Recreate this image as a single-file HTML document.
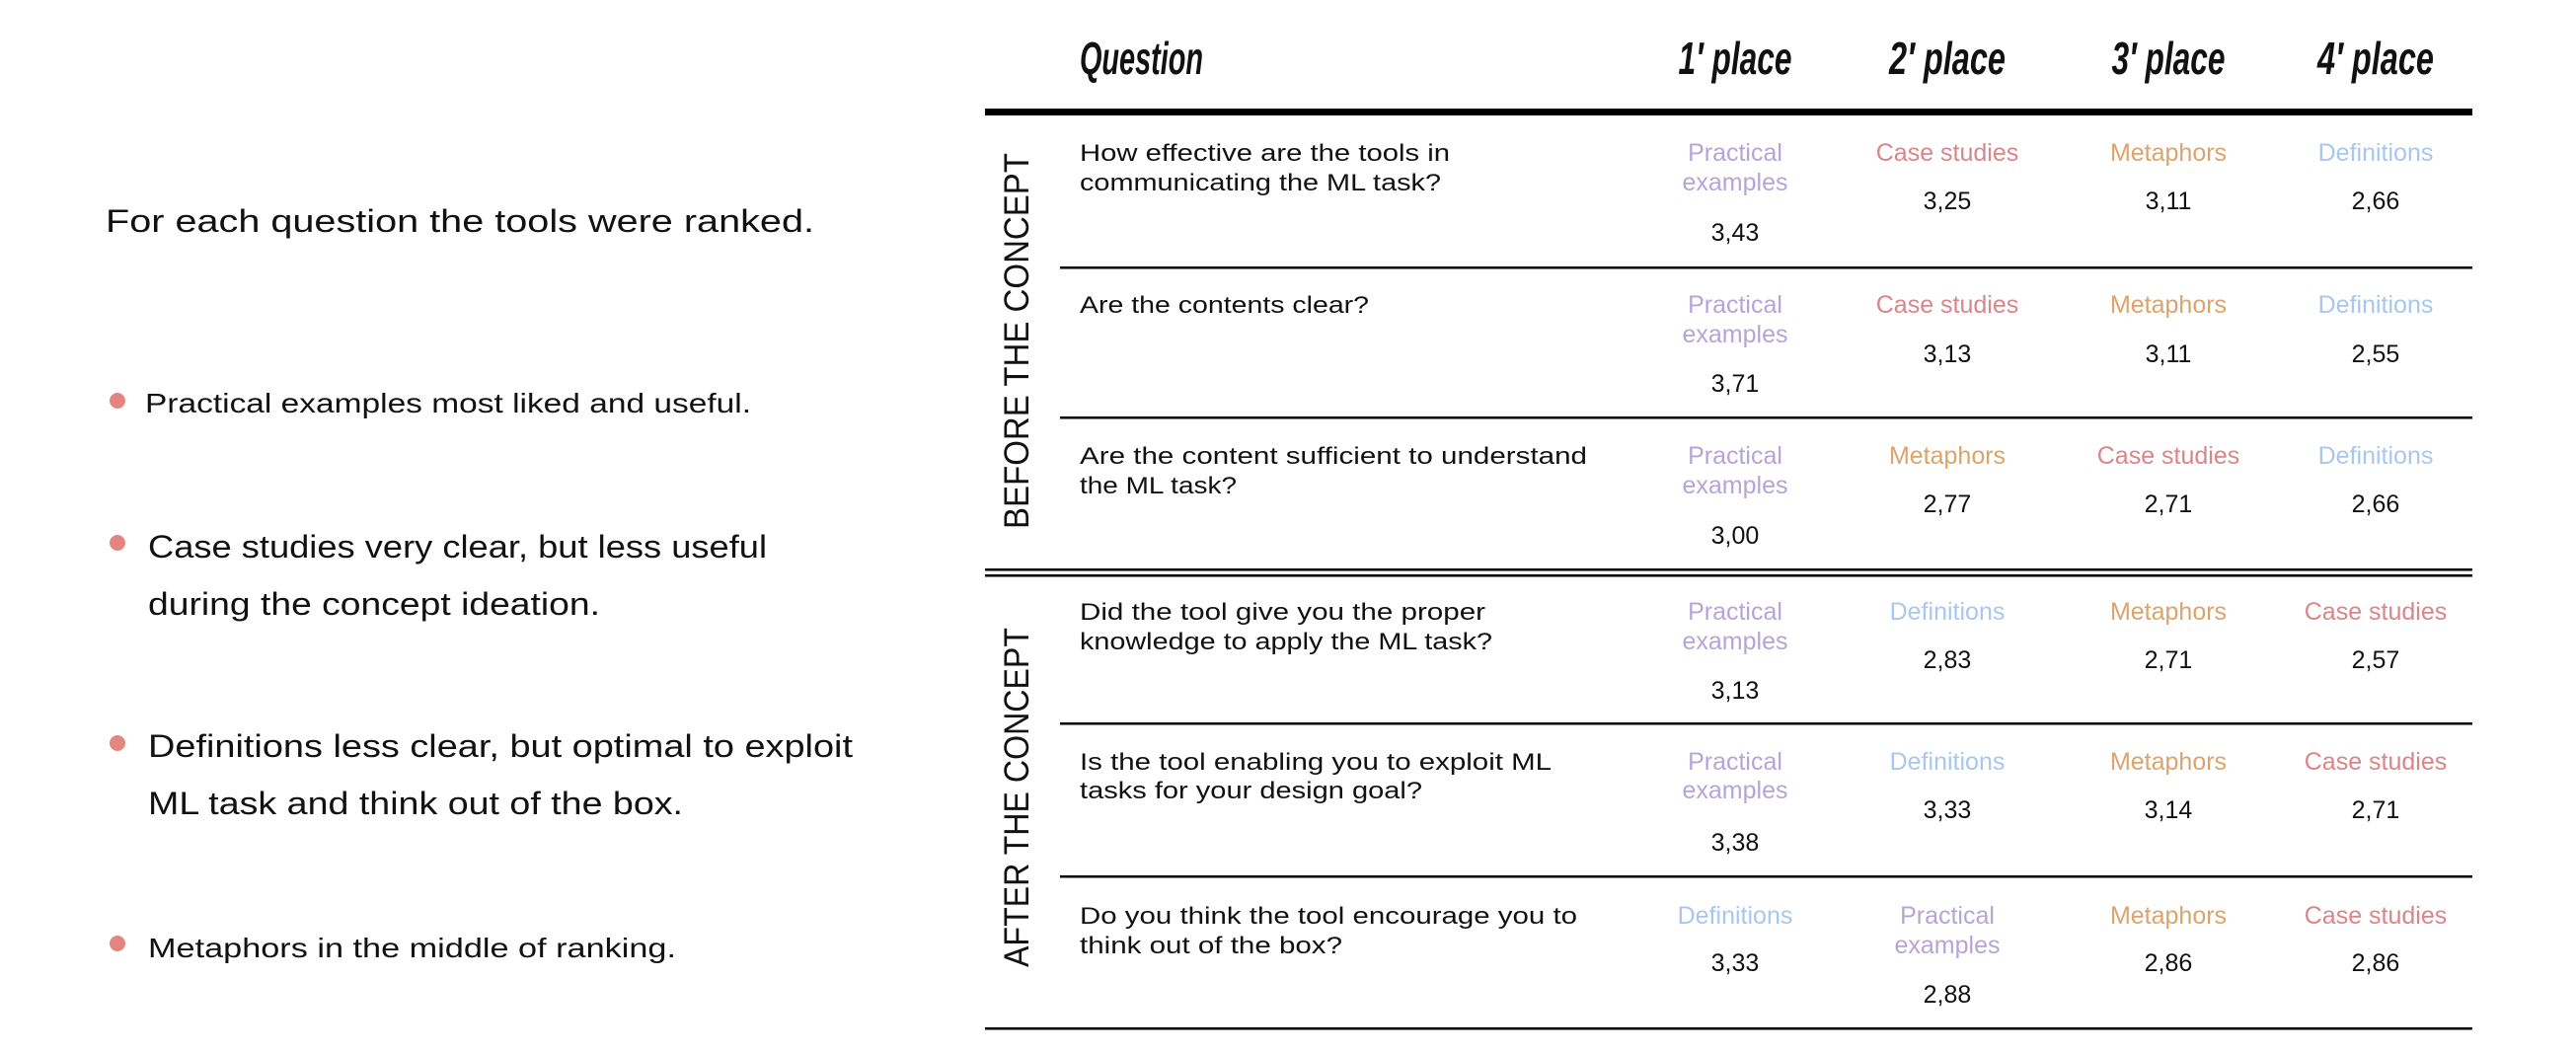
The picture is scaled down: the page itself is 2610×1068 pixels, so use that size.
<!DOCTYPE html>
<html><head><meta charset="utf-8"><style>html,body{margin:0;padding:0;background:#fff}svg{display:block}</style></head><body>
<svg width="2610" height="1068" xmlns="http://www.w3.org/2000/svg" font-family="'Liberation Sans', sans-serif">
<rect width="2610" height="1068" fill="#fff"/>
<g fill="#111">
<text x="107" y="235" font-size="32" textLength="718" lengthAdjust="spacingAndGlyphs">For each question the tools were ranked.</text>
<circle cx="119" cy="406" r="8" fill="#e3867f"/>
<text x="147" y="418" font-size="28" textLength="614" lengthAdjust="spacingAndGlyphs">Practical examples most liked and useful.</text>
<circle cx="119" cy="550" r="8" fill="#e3867f"/>
<text x="150" y="565" font-size="32" textLength="627" lengthAdjust="spacingAndGlyphs">Case studies very clear, but less useful</text>
<text x="150" y="623" font-size="32" textLength="458" lengthAdjust="spacingAndGlyphs">during the concept ideation.</text>
<circle cx="119" cy="753" r="8" fill="#e3867f"/>
<text x="150" y="767" font-size="32" textLength="714" lengthAdjust="spacingAndGlyphs">Definitions less clear, but optimal to exploit</text>
<text x="150" y="825" font-size="32" textLength="542" lengthAdjust="spacingAndGlyphs">ML task and think out of the box.</text>
<circle cx="119" cy="956" r="8" fill="#e3867f"/>
<text x="150" y="970" font-size="28" textLength="535" lengthAdjust="spacingAndGlyphs">Metaphors in the middle of ranking.</text>
</g>
<g font-size="46" font-weight="bold" font-style="italic" fill="#111">
<text x="1094" y="75" textLength="125" lengthAdjust="spacingAndGlyphs">Question</text>
<text x="1758" y="75" text-anchor="middle" textLength="115" lengthAdjust="spacingAndGlyphs">1′ place</text>
<text x="1973" y="75" text-anchor="middle" textLength="118" lengthAdjust="spacingAndGlyphs">2′ place</text>
<text x="2197" y="75" text-anchor="middle" textLength="115" lengthAdjust="spacingAndGlyphs">3′ place</text>
<text x="2407" y="75" text-anchor="middle" textLength="118" lengthAdjust="spacingAndGlyphs">4′ place</text>
</g>
<rect x="998" y="110" width="1507" height="7" fill="#000"/>
<rect x="1074" y="270" width="1431" height="2.5" fill="#000"/>
<rect x="1074" y="422" width="1431" height="2.5" fill="#000"/>
<rect x="998" y="576" width="1507" height="2.5" fill="#000"/>
<rect x="998" y="582" width="1507" height="2.5" fill="#000"/>
<rect x="1074" y="732" width="1431" height="2.5" fill="#000"/>
<rect x="1074" y="887" width="1431" height="2.5" fill="#000"/>
<rect x="998" y="1041" width="1507" height="2.5" fill="#000"/>
<text transform="translate(1042,536) rotate(-90)" font-size="35" fill="#111" textLength="381" lengthAdjust="spacingAndGlyphs">BEFORE THE CONCEPT</text>
<text transform="translate(1042,980) rotate(-90)" font-size="35" fill="#111" textLength="344" lengthAdjust="spacingAndGlyphs">AFTER THE CONCEPT</text>
<g font-size="24" fill="#111">
<text x="1094" y="163" textLength="375" lengthAdjust="spacingAndGlyphs">How effective are the tools in</text>
<text x="1094" y="193" textLength="366" lengthAdjust="spacingAndGlyphs">communicating the ML task?</text>
<text x="1094" y="317" textLength="293" lengthAdjust="spacingAndGlyphs">Are the contents clear?</text>
<text x="1094" y="470" textLength="514" lengthAdjust="spacingAndGlyphs">Are the content sufficient to understand</text>
<text x="1094" y="500" textLength="159" lengthAdjust="spacingAndGlyphs">the ML task?</text>
<text x="1094" y="628" textLength="411" lengthAdjust="spacingAndGlyphs">Did the tool give you the proper</text>
<text x="1094" y="658" textLength="418" lengthAdjust="spacingAndGlyphs">knowledge to apply the ML task?</text>
<text x="1094" y="780" textLength="478" lengthAdjust="spacingAndGlyphs">Is the tool enabling you to exploit ML</text>
<text x="1094" y="809" textLength="347" lengthAdjust="spacingAndGlyphs">tasks for your design goal?</text>
<text x="1094" y="936" textLength="504" lengthAdjust="spacingAndGlyphs">Do you think the tool encourage you to</text>
<text x="1094" y="966" textLength="266" lengthAdjust="spacingAndGlyphs">think out of the box?</text>
</g>
<g font-size="25" text-anchor="middle">
<text x="1758" y="163" fill="#b3a5d8">Practical</text><text x="1758" y="193" fill="#b3a5d8">examples</text><text x="1758" y="244" fill="#111">3,43</text>
<text x="1973" y="163" fill="#d98589">Case studies</text><text x="1973" y="212" fill="#111">3,25</text>
<text x="2197" y="163" fill="#dca36a">Metaphors</text><text x="2197" y="212" fill="#111">3,11</text>
<text x="2407" y="163" fill="#a8c7ef">Definitions</text><text x="2407" y="212" fill="#111">2,66</text>
<text x="1758" y="317" fill="#b3a5d8">Practical</text><text x="1758" y="347" fill="#b3a5d8">examples</text><text x="1758" y="397" fill="#111">3,71</text>
<text x="1973" y="317" fill="#d98589">Case studies</text><text x="1973" y="367" fill="#111">3,13</text>
<text x="2197" y="317" fill="#dca36a">Metaphors</text><text x="2197" y="367" fill="#111">3,11</text>
<text x="2407" y="317" fill="#a8c7ef">Definitions</text><text x="2407" y="367" fill="#111">2,55</text>
<text x="1758" y="470" fill="#b3a5d8">Practical</text><text x="1758" y="500" fill="#b3a5d8">examples</text><text x="1758" y="551" fill="#111">3,00</text>
<text x="1973" y="470" fill="#dca36a">Metaphors</text><text x="1973" y="519" fill="#111">2,77</text>
<text x="2197" y="470" fill="#d98589">Case studies</text><text x="2197" y="519" fill="#111">2,71</text>
<text x="2407" y="470" fill="#a8c7ef">Definitions</text><text x="2407" y="519" fill="#111">2,66</text>
<text x="1758" y="628" fill="#b3a5d8">Practical</text><text x="1758" y="658" fill="#b3a5d8">examples</text><text x="1758" y="708" fill="#111">3,13</text>
<text x="1973" y="628" fill="#a8c7ef">Definitions</text><text x="1973" y="677" fill="#111">2,83</text>
<text x="2197" y="628" fill="#dca36a">Metaphors</text><text x="2197" y="677" fill="#111">2,71</text>
<text x="2407" y="628" fill="#d98589">Case studies</text><text x="2407" y="677" fill="#111">2,57</text>
<text x="1758" y="780" fill="#b3a5d8">Practical</text><text x="1758" y="809" fill="#b3a5d8">examples</text><text x="1758" y="862" fill="#111">3,38</text>
<text x="1973" y="780" fill="#a8c7ef">Definitions</text><text x="1973" y="829" fill="#111">3,33</text>
<text x="2197" y="780" fill="#dca36a">Metaphors</text><text x="2197" y="829" fill="#111">3,14</text>
<text x="2407" y="780" fill="#d98589">Case studies</text><text x="2407" y="829" fill="#111">2,71</text>
<text x="1758" y="936" fill="#a8c7ef">Definitions</text><text x="1758" y="984" fill="#111">3,33</text>
<text x="1973" y="936" fill="#b3a5d8">Practical</text><text x="1973" y="966" fill="#b3a5d8">examples</text><text x="1973" y="1016" fill="#111">2,88</text>
<text x="2197" y="936" fill="#dca36a">Metaphors</text><text x="2197" y="984" fill="#111">2,86</text>
<text x="2407" y="936" fill="#d98589">Case studies</text><text x="2407" y="984" fill="#111">2,86</text>
</g>
</svg>
</body></html>
